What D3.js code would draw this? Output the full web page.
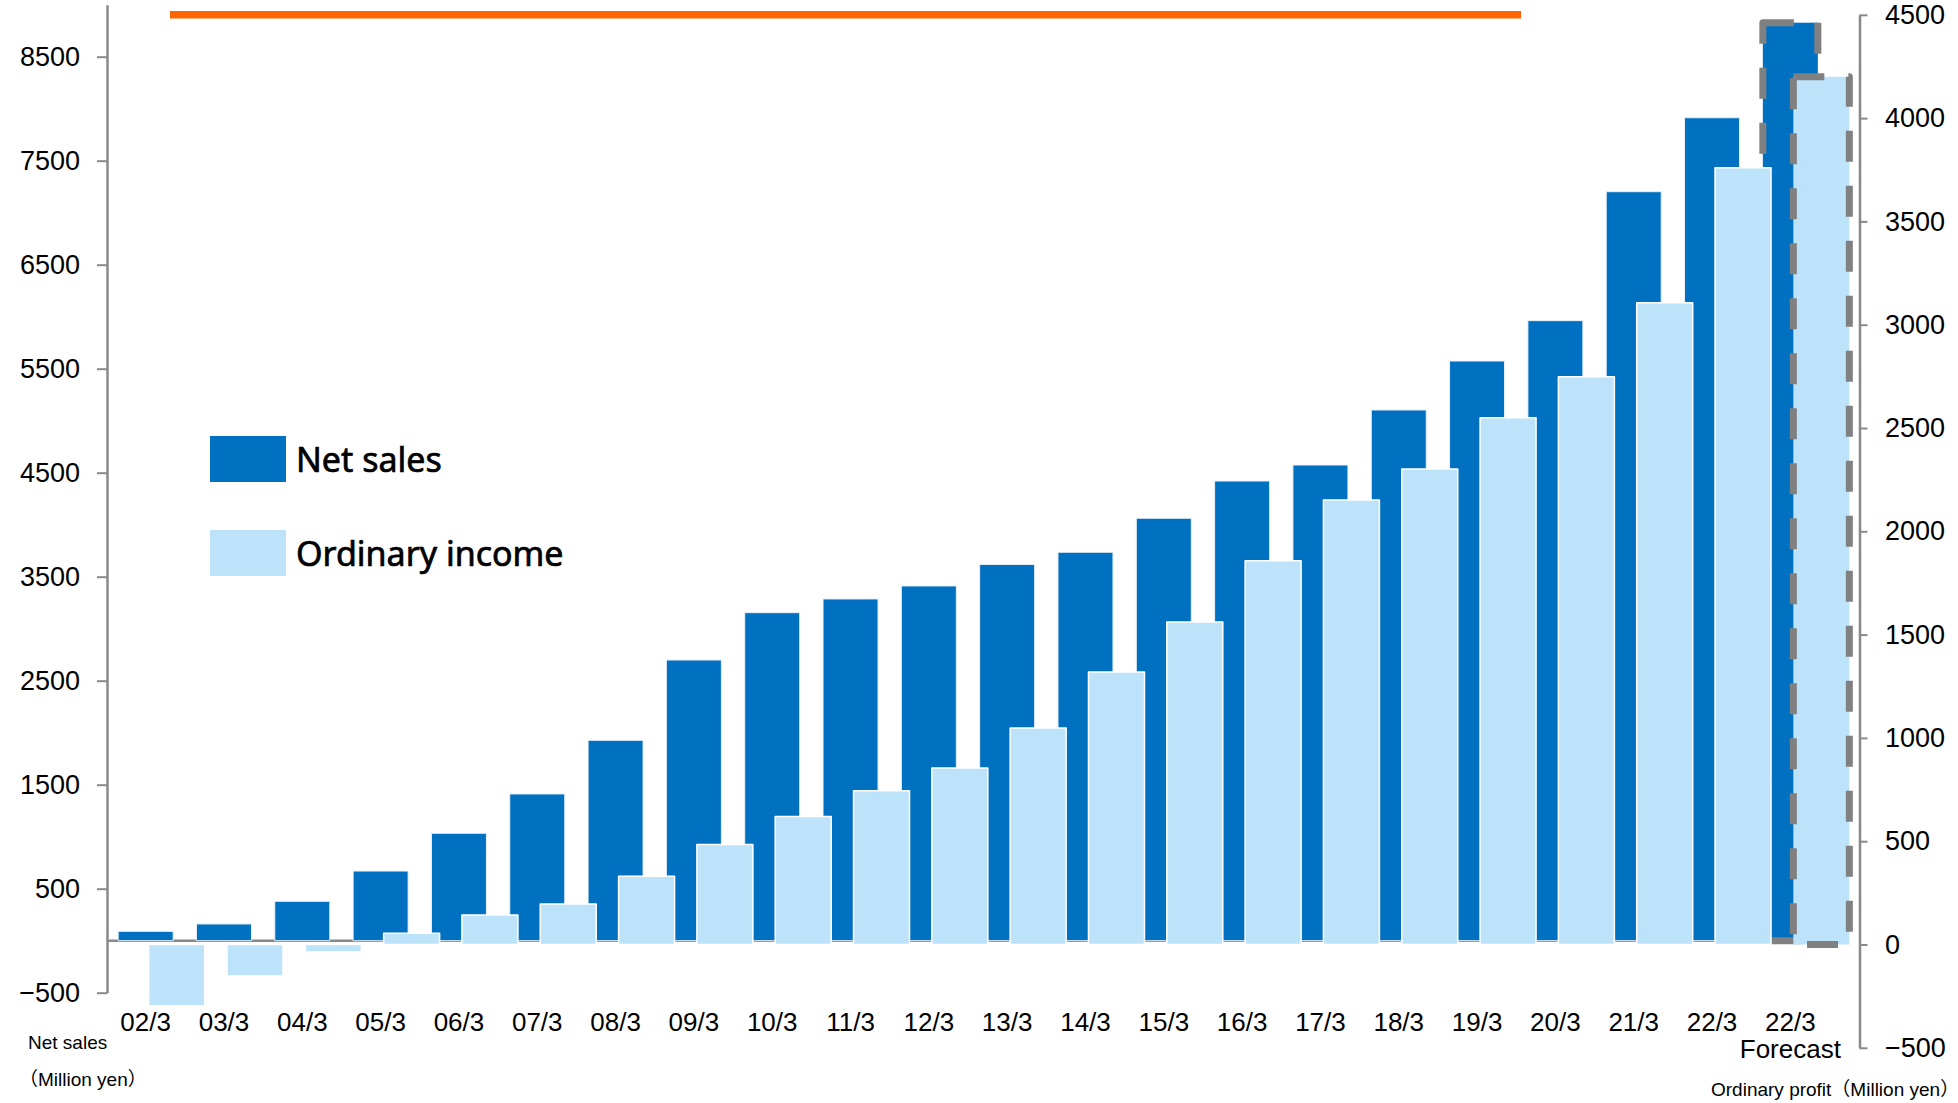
<!DOCTYPE html>
<html>
<head>
<meta charset="utf-8">
<script src="https://cdn.jsdelivr.net/npm/d3@7"></script>
<style>
  html, body { margin: 0; padding: 0; background: #ffffff; }
  svg { display: block; }
</style>
</head>
<body>
<svg id="chart" width="1958" height="1103"></svg>
<script>
// Fiscal years (March year-end); the last column is the forecast
const categories = ["02/3", "03/3", "04/3", "05/3", "06/3", "07/3", "08/3", "09/3", "10/3", "11/3",
  "12/3", "13/3", "14/3", "15/3", "16/3", "17/3", "18/3", "19/3", "20/3", "21/3", "22/3", "22/3 Forecast"];

// Net sales, million yen (left axis)
const netSales = [90, 161, 379, 670, 1033, 1411, 1927, 2699, 3154, 3286,
  3411, 3618, 3735, 4062, 4420, 4574, 5103, 5574, 5962, 7202, 7913, 8827];

// Ordinary income, million yen (right axis)
const ordinaryIncome = [-296, -152, -36, 54, 143, 196, 330, 484, 619, 744,
  854, 1048, 1319, 1561, 1858, 2152, 2302, 2550, 2748, 3106, 3760, 4200];

const leftTicks = [-500, 500, 1500, 2500, 3500, 4500, 5500, 6500, 7500, 8500];
const rightTicks = [-500, 0, 500, 1000, 1500, 2000, 2500, 3000, 3500, 4000, 4500];
const seriesNames = ["Net sales", "Ordinary income"];
const seriesColors = ["#0070C0", "#BDE3FB"];

const svg = d3.select("#chart");
const numFont = "'Liberation Sans', Arial, sans-serif";
const noteFont = "'Liberation Sans', Arial, 'Noto Sans CJK JP', sans-serif";
const axisGray = "#898989";

const x = d3.scaleBand().domain(categories).range([106.5, 1829.5]).padding(0);
const yLeft = d3.scaleLinear().domain([-500, 9000]).range([992.7, 4.7]);
const yRight = d3.scaleLinear().domain([-500, 4500]).range([1047.8, 14.8]);
const center = c => x(c) + x.bandwidth() / 2;
const isForecast = categories.map(c => c.includes("Forecast"));

// Accent rule across the top
svg.append("rect")
  .attr("x", 170).attr("y", 11).attr("width", 1351).attr("height", 7.5)
  .attr("fill", "#FF6600");

// Zero baseline for net sales
svg.append("line")
  .attr("x1", 107).attr("x2", 1830)
  .attr("y1", yLeft(0)).attr("y2", yLeft(0))
  .attr("stroke", axisGray).attr("stroke-width", 2.5);

// Net sales columns
svg.append("g").selectAll("rect")
  .data(categories)
  .join("rect")
  .attr("x", c => center(c) - 27.5)
  .attr("width", 55)
  .attr("y", (c, i) => yLeft(Math.max(0, netSales[i])))
  .attr("height", (c, i) => Math.abs(yLeft(netSales[i]) - yLeft(0)))
  .attr("fill", seriesColors[0])
  .attr("stroke", (c, i) => isForecast[i] ? "#808080" : "#e9f0f7")
  .attr("stroke-width", (c, i) => isForecast[i] ? 7 : 1)
  .attr("stroke-dasharray", (c, i) => isForecast[i] ? "31 24" : null)
  .attr("stroke-linejoin", "round");

// Ordinary income columns, drawn in front
svg.append("g").selectAll("rect")
  .data(categories)
  .join("rect")
  .attr("x", c => center(c) + 3)
  .attr("width", 56)
  .attr("y", (c, i) => yRight(Math.max(0, ordinaryIncome[i])))
  .attr("height", (c, i) => Math.abs(yRight(ordinaryIncome[i]) - yRight(0)))
  .attr("fill", seriesColors[1])
  .attr("stroke", (c, i) => isForecast[i] ? "#808080" : "#ffffff")
  .attr("stroke-width", (c, i) => isForecast[i] ? 7 : 1.5)
  .attr("stroke-dasharray", (c, i) => isForecast[i] ? "31 24" : null)
  .attr("stroke-linejoin", "round");

// Left axis (net sales)
const gLeft = svg.append("g")
  .attr("transform", "translate(107,0)")
  .call(d3.axisLeft(yLeft).tickValues(leftTicks).tickFormat(d3.format("d"))
    .tickSize(10).tickSizeOuter(0).tickPadding(17));

// Right axis (ordinary profit)
const gRight = svg.append("g")
  .attr("transform", "translate(1859.5,0)")
  .call(d3.axisRight(yRight).tickValues(rightTicks).tickFormat(d3.format("d"))
    .tickSize(8).tickSizeOuter(0).tickPadding(17.5));

[gLeft, gRight].forEach(g => {
  g.select(".domain").attr("stroke", axisGray).attr("stroke-width", 2.5);
  g.selectAll(".tick line").attr("stroke", axisGray).attr("stroke-width", 2);
  g.selectAll(".tick text")
    .attr("font-family", numFont).attr("font-size", 27).attr("fill", "#000");
});

// Category labels
const gX = svg.append("g")
  .attr("transform", "translate(0,1004)")
  .call(d3.axisBottom(x).tickSize(0).tickPadding(8.5).tickFormat(""));
gX.select(".domain").remove();
gX.selectAll(".tick text").each(function(c) {
  const parts = c.split(" ");
  const t = d3.select(this)
    .attr("font-family", numFont).attr("font-size", 26).attr("fill", "#000");
  parts.forEach((p, k) => {
    t.append("tspan").attr("x", 0).attr("dy", k === 0 ? "0.71em" : 27).text(p);
  });
});

// Axis unit notes
svg.append("text").attr("x", 28).attr("y", 1049)
  .attr("font-family", noteFont).attr("font-size", 19).attr("fill", "#000")
  .text("Net sales");
svg.append("text").attr("x", 19).attr("y", 1086)
  .attr("font-family", noteFont).attr("font-size", 19).attr("fill", "#000")
  .text("（Million yen）");
svg.append("text").attr("x", 1711).attr("y", 1096)
  .attr("font-family", noteFont).attr("font-size", 19).attr("fill", "#000")
  .text("Ordinary profit（Million yen）");

// Legend
const legend = svg.append("g").attr("transform", "translate(210,436)");
const item = legend.selectAll("g")
  .data(seriesNames)
  .join("g")
  .attr("transform", (d, i) => `translate(0,${i * 94})`);
item.append("rect")
  .attr("width", 76).attr("height", 46)
  .attr("fill", (d, i) => seriesColors[i]);
item.append("text")
  .attr("x", 86).attr("y", 35.7)
  .attr("font-family", "'Noto Sans', 'Open Sans', sans-serif")
  .attr("font-size", 34).attr("fill", "#000")
  .attr("stroke", "#000").attr("stroke-width", 0.7)
  .text(d => d);
</script>
</body>
</html>
